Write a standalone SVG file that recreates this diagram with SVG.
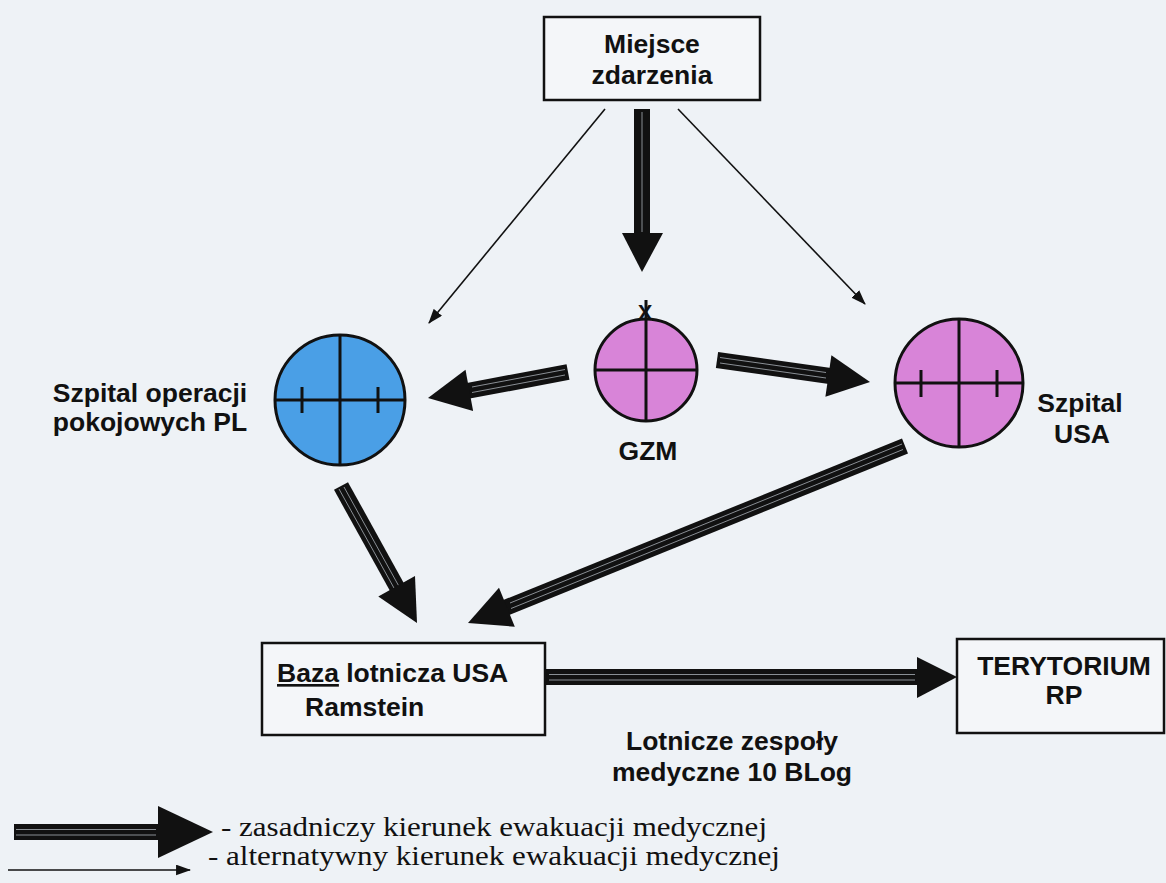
<svg xmlns="http://www.w3.org/2000/svg" width="1166" height="883" viewBox="0 0 1166 883">
<style>
.lbl{font-family:"Liberation Sans",Arial,sans-serif;font-weight:bold;font-size:26.5px;fill:#111;}
.leg{font-family:"Liberation Serif","Times New Roman",serif;font-size:28px;fill:#111;}
.box{fill:#f4f6f9;stroke:#111;stroke-width:2.5;}
.shaft{stroke:#111;stroke-width:16;fill:none;}
.stripe{stroke:#8a8f95;stroke-width:1;fill:none;}
.head{fill:#111;}
.thin{stroke:#111;stroke-width:1.6;fill:none;marker-end:url(#th);}
.cl{stroke:#111;stroke-width:3;fill:none;}
.blue{fill:#4a9fe6;stroke:#111;stroke-width:3;}
.pink{fill:#d884d8;stroke:#111;stroke-width:3;}
</style>
<defs>
<marker id="th" viewBox="0 0 14 10" refX="13" refY="5" markerWidth="15" markerHeight="11" markerUnits="userSpaceOnUse" orient="auto">
<path d="M0,0 L14,5 L0,10 Z" fill="#111"/>
</marker>
</defs>
<rect x="0" y="0" width="1166" height="883" fill="#eef2f6"/>

<g id="connectors">
  <line class="thin" x1="605" y1="109" x2="429" y2="323"/>
  <line class="thin" x1="678" y1="109" x2="865" y2="304"/>
  <line class="shaft" x1="642" y1="109" x2="642" y2="236"/>
  <line class="stripe" x1="642" y1="112" x2="642" y2="232"/>
  <polygon class="head" points="622,233 663,233 642,272"/>
  <line class="shaft" x1="717" y1="360" x2="830" y2="376"/>
  <line class="stripe" x1="720" y1="357.5" x2="826" y2="372.5"/>
  <line class="stripe" x1="720" y1="363" x2="826" y2="378"/>
  <polygon class="head" points="825.4,396.8 831.4,355.2 870,382"/>
  <line class="shaft" x1="568" y1="372" x2="467" y2="391"/>
  <line class="stripe" x1="565" y1="369.5" x2="472" y2="387"/>
  <line class="stripe" x1="565" y1="375" x2="472" y2="392.5"/>
  <polygon class="head" points="465.5,369.7 473.1,410.9 428,398"/>
  <line class="shaft" x1="341" y1="486" x2="398" y2="589"/>
  <line class="stripe" x1="339" y1="489" x2="394" y2="588"/>
  <line class="stripe" x1="344" y1="487" x2="398.5" y2="585.5"/>
  <polygon class="head" points="378.3,596.5 415,576.1 417,623"/>
  <line class="shaft" x1="905" y1="446" x2="505" y2="608"/>
  <line class="stripe" x1="902" y1="444" x2="510" y2="603"/>
  <line class="stripe" x1="903" y1="449.5" x2="511" y2="608.5"/>
  <polygon class="head" points="499,587.7 514.8,626.7 468,623"/>
  <line class="shaft" x1="546" y1="677" x2="919" y2="677"/>
  <line class="stripe" x1="549" y1="674.5" x2="915" y2="674.5"/>
  <line class="stripe" x1="549" y1="680" x2="915" y2="680"/>
  <polygon class="head" points="917,657 917,698 957,677"/>
  <text class="lbl" x="732" y="750" text-anchor="middle">Lotnicze zespoły</text>
  <text class="lbl" x="732" y="781" text-anchor="middle">medyczne 10 BLog</text>
</g>

<g id="miejsce">
  <rect class="box" x="544" y="17" width="216" height="83"/>
  <text class="lbl" x="652" y="53" text-anchor="middle">Miejsce</text>
  <text class="lbl" x="652" y="84" text-anchor="middle">zdarzenia</text>
</g>

<g id="szpital-pl">
  <circle class="blue" cx="340" cy="400" r="65"/>
  <line class="cl" x1="275" y1="400" x2="405" y2="400"/>
  <line class="cl" x1="340" y1="335" x2="340" y2="465"/>
  <line class="cl" x1="302" y1="387" x2="302" y2="413"/>
  <line class="cl" x1="378" y1="387" x2="378" y2="413"/>
  <text class="lbl" x="150" y="402" text-anchor="middle">Szpital operacji</text>
  <text class="lbl" x="150" y="431" text-anchor="middle">pokojowych PL</text>
</g>

<g id="gzm">
  <circle class="pink" cx="646" cy="370" r="51"/>
  <line class="cl" x1="595" y1="370" x2="697" y2="370"/>
  <line class="cl" x1="646" y1="300" x2="646" y2="421"/>
  <text class="lbl" x="645" y="320" text-anchor="middle" style="font-size:22px">X</text>
  <text class="lbl" x="648" y="460" text-anchor="middle">GZM</text>
</g>

<g id="szpital-usa">
  <circle class="pink" cx="959" cy="383" r="64"/>
  <line class="cl" x1="895" y1="383" x2="1023" y2="383"/>
  <line class="cl" x1="959" y1="319" x2="959" y2="447"/>
  <line class="cl" x1="921" y1="370" x2="921" y2="397"/>
  <line class="cl" x1="997" y1="370" x2="997" y2="397"/>
  <text class="lbl" x="1080" y="412" text-anchor="middle">Szpital</text>
  <text class="lbl" x="1082" y="443" text-anchor="middle">USA</text>
</g>

<g id="baza">
  <rect class="box" x="262" y="643" width="283" height="92"/>
  <text class="lbl" x="277" y="682"><tspan text-decoration="underline">Baza</tspan> lotnicza USA</text>
  <text class="lbl" x="305" y="716">Ramstein</text>
</g>

<g id="terytorium">
  <rect class="box" x="957" y="639" width="207" height="94"/>
  <text class="lbl" x="1064" y="675" text-anchor="middle">TERYTORIUM</text>
  <text class="lbl" x="1064" y="704" text-anchor="middle">RP</text>
</g>

<g id="legend">
  <line class="shaft" x1="14" y1="832" x2="160" y2="832"/>
  <line class="stripe" x1="16" y1="829.5" x2="156" y2="829.5"/>
  <line class="stripe" x1="16" y1="835" x2="156" y2="835"/>
  <polygon class="head" points="158,806 158,858 213,832"/>
  <line class="thin" x1="8" y1="870" x2="190" y2="870"/>
  <text class="leg" x="221" y="836" textLength="546" lengthAdjust="spacingAndGlyphs">- zasadniczy kierunek ewakuacji medycznej</text>
  <text class="leg" x="208" y="865" textLength="572" lengthAdjust="spacingAndGlyphs">- alternatywny kierunek ewakuacji medycznej</text>
</g>
</svg>
